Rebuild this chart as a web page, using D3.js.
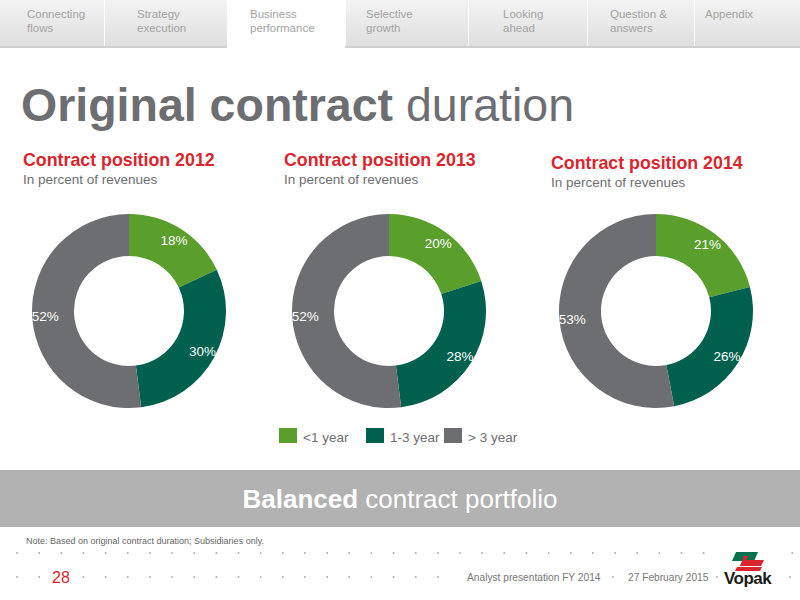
<!DOCTYPE html>
<html><head><meta charset="utf-8">
<script src="https://cdn.jsdelivr.net/npm/d3@7"></script>
<style>body{margin:0;background:#fff}svg{display:block}text{font-family:"Liberation Sans",Arial,sans-serif}</style>
</head><body>
<script>
// ---- data ----
const years = ["2012", "2013", "2014"];
const categories = ["<1 year", "1-3 year", "> 3 year"];
const lessThan1 = [18, 20, 21];
const oneToThree = [30, 28, 26];
const moreThan3 = [52, 52, 53];
const tabs = [["Connecting","flows"],["Strategy","execution"],["Business","performance"],["Selective","growth"],["Looking","ahead"],["Question &","answers"],["Appendix",""]];
const activeTab = 2;

const W = 800, H = 600;
const svg = d3.select("body").append("svg").attr("width", W).attr("height", H);
const defs = svg.append("defs");
const grad = defs.append("linearGradient").attr("id","tabg").attr("x1",0).attr("y1",0).attr("x2",0).attr("y2",1);
grad.append("stop").attr("offset","0%").attr("stop-color","#f3f3f3");
grad.append("stop").attr("offset","100%").attr("stop-color","#dedede");

// ---- tabs ----
const tabEdges = [0,104,227,345,468,587,694,800];
const tabTextX = [27,137,250,366,503,610,705];
tabs.forEach((t,i)=>{
  const x0 = tabEdges[i], x1 = tabEdges[i+1];
  if (i !== activeTab) {
    svg.append("rect").attr("x",x0+(i>0?1:0)).attr("y",0).attr("width",x1-x0-(i>0?1:0)).attr("height",48).attr("fill","url(#tabg)");
    svg.append("rect").attr("x",x0).attr("y",46).attr("width",x1-x0).attr("height",2).attr("fill","#cfcfcf");
  }
  const tx = svg.append("text").attr("x",tabTextX[i]).attr("y",18).attr("font-size",11.5).attr("fill","#a3a3a3");
  tx.append("tspan").attr("x",tabTextX[i]).attr("dy",0).text(t[0]);
  if (t[1]) tx.append("tspan").attr("x",tabTextX[i]).attr("dy",14).text(t[1]);
});

// ---- main title ----
const title = svg.append("text").attr("x",21).attr("y",121).attr("font-size",46.5).attr("fill","#6d6e71");
title.append("tspan").attr("font-weight","bold").text("Original contract ");
title.append("tspan").text("duration");

// ---- donuts ----
const color = d3.scaleOrdinal().domain(categories).range(["#5a9e2c","#00604e","#6d6e71"]);
const centerX = {"2012":129,"2013":389,"2014":656};
const titleX = {"2012":23,"2013":284,"2014":551};
const titleDy = {"2012":0,"2013":0,"2014":3};
const cy = 311, rOuter = 97, rInner = 55, rLabel = 84;
const pie = d3.pie().sort(null).value(d=>d.value);
const arc = d3.arc().innerRadius(rInner).outerRadius(rOuter);
const labelArc = d3.arc().innerRadius(rLabel).outerRadius(rLabel);

years.forEach((y,i)=>{
  const data = [
    {cat:categories[0], value:lessThan1[i]},
    {cat:categories[1], value:oneToThree[i]},
    {cat:categories[2], value:moreThan3[i]}
  ];
  svg.append("text").attr("x",titleX[y]).attr("y",166+titleDy[y]).attr("font-size",17.8).attr("font-weight","bold").attr("fill","#d9262e").text("Contract position " + y);
  svg.append("text").attr("x",titleX[y]).attr("y",184+titleDy[y]).attr("font-size",13.5).attr("fill","#6d6e71").text("In percent of revenues");
  const g = svg.append("g").attr("transform",`translate(${centerX[y]},${cy})`);
  const arcs = pie(data);
  g.selectAll("path").data(arcs).join("path").attr("d",arc).attr("fill",d=>color(d.data.cat));
  g.selectAll("text").data(arcs).join("text")
    .attr("transform",d=>`translate(${labelArc.centroid(d)})`)
    .attr("text-anchor","middle").attr("dy","0.35em")
    .attr("font-size",13.5).attr("fill","#fff")
    .text(d=>d.data.value + "%");
});

// ---- legend ----
const legX = [279, 366, 444];
categories.forEach((c,i)=>{
  svg.append("rect").attr("x",legX[i]).attr("y",428).attr("width",18).attr("height",15).attr("fill",color(c));
  svg.append("text").attr("x",legX[i]+24).attr("y",442).attr("font-size",13.5).attr("fill","#6d6e71").text(c);
});

// ---- band ----
svg.append("rect").attr("x",0).attr("y",470).attr("width",W).attr("height",57).attr("fill","#b2b2b2");
const bt = svg.append("text").attr("x",400).attr("y",508).attr("text-anchor","middle").attr("font-size",26).attr("fill","#fff");
bt.append("tspan").attr("font-weight","bold").text("Balanced");
bt.append("tspan").text(" contract portfolio");

// ---- note ----
svg.append("text").attr("x",26).attr("y",544).attr("font-size",9).attr("fill","#666").text("Note: Based on original contract duration; Subsidiaries only.");

// ---- dots ----
const step = 22.15;
for (let k=0;k<36;k++){
  const x = 17 + k*step;
  if (x>722 && x<778) continue;
  svg.append("circle").attr("cx",x).attr("cy",553).attr("r",1).attr("fill","#b0b0b0");
}
for (let k=0;k<20;k++){
  const x = 17 + k*step;
  if (k===2) continue;
  svg.append("circle").attr("cx",x).attr("cy",577).attr("r",1).attr("fill","#b0b0b0");
}
[613,717,790].forEach(x=>svg.append("circle").attr("cx",x).attr("cy",577).attr("r",1).attr("fill","#b0b0b0"));
svg.append("text").attr("x",52).attr("y",583).attr("font-size",16).attr("fill","#d9262e").text("28");
svg.append("text").attr("x",467).attr("y",581).attr("font-size",10.2).attr("fill","#777").text("Analyst presentation FY 2014");
svg.append("text").attr("x",628).attr("y",581).attr("font-size",10.2).attr("fill","#777").text("27 February 2015");

// ---- logo ----
const lg = svg.append("g");
lg.append("path").attr("d","M736,552 L758,552 L754,561 L732,561 Z").attr("fill","#00704f");
lg.append("path").attr("d","M743,560 L764,560 L761,566 L740,566 Z").attr("fill","#d9262e");
lg.append("path").attr("d","M737,567 L762,567 L760,571 L735,571 Z").attr("fill","#d9262e");
lg.append("path").attr("d","M744,556 L748,556 L744,566 L740,566 Z").attr("fill","#d9262e");
svg.append("text").attr("x",724).attr("y",584).attr("font-size",17).attr("font-weight","bold").attr("fill","#1a1a1a").attr("letter-spacing",-0.5).text("Vopak");
</script>
</body></html>
